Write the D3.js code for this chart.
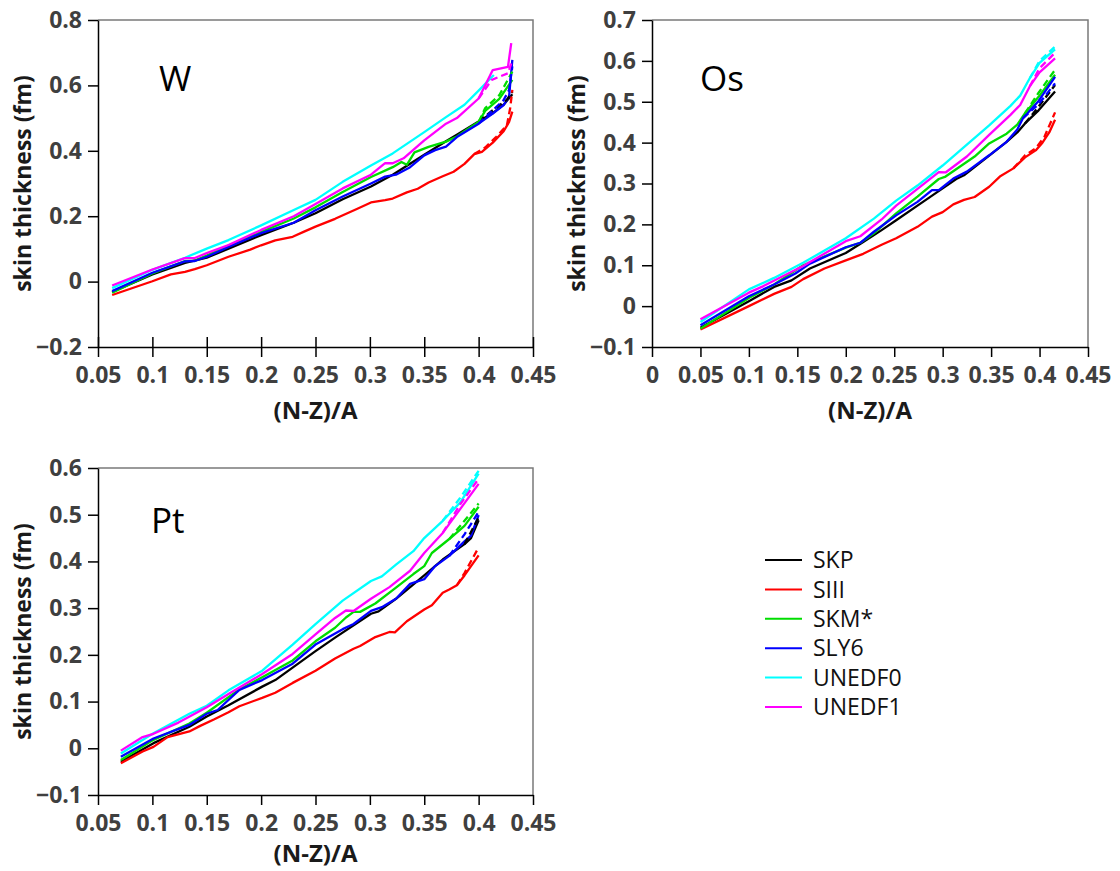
<!DOCTYPE html>
<html>
<head>
<meta charset="utf-8">
<script src="https://cdn.jsdelivr.net/npm/d3@7"></script>
<style>
  body { margin: 0; background: #ffffff; }
  svg { display: block; font-family: "Open Sans", "DejaVu Sans", sans-serif; }
</style>
</head>
<body>
<svg id="chart" width="1120" height="871"></svg>
<script>
// Skyrme / UNEDF functionals shown in every panel
const modelNames = ["SKP", "SIII", "SKM*", "SLY6", "UNEDF0", "UNEDF1"];
const modelColors = ["#000000", "#ff0000", "#00dd00", "#0000ff", "#00ffff", "#ff00ff"];

// Axis tick values
const W_xTicks = [0.05, 0.1, 0.15, 0.2, 0.25, 0.3, 0.35, 0.4, 0.45];
const W_yTicks = [-0.2, 0, 0.2, 0.4, 0.6, 0.8];
const Os_xTicks = [0, 0.05, 0.1, 0.15, 0.2, 0.25, 0.3, 0.35, 0.4, 0.45];
const Os_yTicks = [-0.1, 0, 0.1, 0.2, 0.3, 0.4, 0.5, 0.6, 0.7];
const Pt_xTicks = [0.05, 0.1, 0.15, 0.2, 0.25, 0.3, 0.35, 0.4, 0.45];
const Pt_yTicks = [-0.1, 0, 0.1, 0.2, 0.3, 0.4, 0.5, 0.6];

// ---- W isotopes: [(N-Z)/A, skin thickness (fm)] ----
const W_SKP = [[0.063,-0.032],[0.1,0.022],[0.13,0.057],[0.15,0.073],[0.17,0.101],[0.2,0.142],[0.23,0.18],[0.25,0.209],[0.275,0.252],[0.301,0.291],[0.321,0.327],[0.35,0.388],[0.37,0.429],[0.38,0.449],[0.4,0.49],[0.413,0.515],[0.423,0.541],[0.431,0.573]];
const W_SKP_dash = [[0.4,0.49],[0.413,0.524],[0.426,0.556],[0.431,0.581]];
const W_SIII = [[0.063,-0.041],[0.1,0.001],[0.117,0.022],[0.13,0.03],[0.139,0.038],[0.15,0.05],[0.17,0.076],[0.19,0.098],[0.2,0.111],[0.213,0.126],[0.229,0.137],[0.239,0.152],[0.25,0.168],[0.268,0.192],[0.288,0.222],[0.301,0.242],[0.314,0.249],[0.321,0.254],[0.334,0.273],[0.344,0.284],[0.354,0.303],[0.367,0.322],[0.377,0.336],[0.387,0.36],[0.396,0.39],[0.403,0.397],[0.413,0.425],[0.423,0.46],[0.428,0.488],[0.431,0.52]];
const W_SIII_dash = [[0.396,0.39],[0.406,0.41],[0.416,0.442],[0.426,0.478],[0.429,0.53],[0.431,0.586]];
const W_SKM = [[0.063,-0.034],[0.1,0.025],[0.13,0.063],[0.139,0.064],[0.15,0.08],[0.17,0.11],[0.2,0.152],[0.23,0.193],[0.25,0.227],[0.275,0.274],[0.301,0.32],[0.321,0.35],[0.329,0.366],[0.334,0.357],[0.341,0.395],[0.354,0.412],[0.37,0.428],[0.38,0.444],[0.39,0.467],[0.4,0.488],[0.406,0.522],[0.419,0.559],[0.431,0.617]];
const W_SKM_dash = [[0.4,0.488],[0.406,0.53],[0.419,0.57],[0.431,0.642]];
const W_SLY6 = [[0.063,-0.029],[0.1,0.027],[0.13,0.062],[0.139,0.063],[0.15,0.076],[0.17,0.106],[0.2,0.148],[0.23,0.18],[0.25,0.218],[0.275,0.26],[0.301,0.3],[0.314,0.321],[0.324,0.327],[0.337,0.35],[0.35,0.386],[0.36,0.402],[0.37,0.413],[0.38,0.442],[0.4,0.483],[0.413,0.514],[0.423,0.54],[0.428,0.566],[0.431,0.678]];
const W_SLY6_dash = [[0.4,0.483],[0.413,0.524],[0.423,0.555],[0.428,0.586],[0.431,0.658]];
const W_UNEDF0 = [[0.063,-0.02],[0.1,0.036],[0.13,0.073],[0.15,0.101],[0.17,0.127],[0.2,0.172],[0.23,0.219],[0.25,0.25],[0.275,0.305],[0.301,0.355],[0.321,0.392],[0.35,0.457],[0.37,0.503],[0.387,0.541],[0.4,0.584],[0.414,0.632]];
const W_UNEDF0_dash = [];
const W_UNEDF1 = [[0.063,-0.012],[0.1,0.037],[0.13,0.072],[0.139,0.072],[0.15,0.087],[0.17,0.112],[0.2,0.158],[0.23,0.2],[0.25,0.237],[0.275,0.285],[0.301,0.327],[0.314,0.362],[0.321,0.362],[0.331,0.377],[0.341,0.406],[0.35,0.432],[0.37,0.483],[0.38,0.5],[0.4,0.56],[0.413,0.647],[0.427,0.657],[0.43,0.729]];
const W_UNEDF1_dash = [[0.4,0.56],[0.412,0.617],[0.427,0.637],[0.43,0.667]];

// ---- Os isotopes ----
const Os_SKP = [[0.05,-0.053],[0.1,0.012],[0.126,0.047],[0.144,0.063],[0.163,0.092],[0.2,0.13],[0.218,0.157],[0.237,0.186],[0.252,0.21],[0.274,0.246],[0.3,0.288],[0.314,0.311],[0.322,0.32],[0.348,0.368],[0.366,0.402],[0.377,0.425],[0.385,0.447],[0.399,0.479],[0.416,0.525]];
const Os_SKP_dash = [[0.385,0.447],[0.399,0.488],[0.416,0.541]];
const Os_SIII = [[0.05,-0.057],[0.1,0.0],[0.126,0.03],[0.144,0.047],[0.156,0.066],[0.178,0.092],[0.2,0.112],[0.218,0.128],[0.237,0.15],[0.252,0.166],[0.274,0.194],[0.289,0.219],[0.3,0.23],[0.311,0.249],[0.322,0.26],[0.333,0.267],[0.348,0.292],[0.359,0.317],[0.373,0.337],[0.385,0.364],[0.396,0.381],[0.403,0.4],[0.41,0.425],[0.416,0.456]];
const Os_SIII_dash = [[0.373,0.337],[0.385,0.369],[0.396,0.386],[0.405,0.414],[0.416,0.474]];
const Os_SKM = [[0.05,-0.055],[0.1,0.02],[0.126,0.053],[0.156,0.1],[0.2,0.143],[0.215,0.155],[0.229,0.178],[0.252,0.227],[0.274,0.268],[0.296,0.311],[0.303,0.317],[0.333,0.366],[0.348,0.398],[0.366,0.422],[0.377,0.444],[0.385,0.472],[0.399,0.512],[0.416,0.566]];
const Os_SKM_dash = [[0.385,0.472],[0.399,0.522],[0.416,0.578]];
const Os_SLY6 = [[0.05,-0.047],[0.1,0.024],[0.126,0.053],[0.148,0.08],[0.163,0.104],[0.2,0.144],[0.215,0.155],[0.229,0.182],[0.252,0.222],[0.274,0.255],[0.289,0.284],[0.296,0.284],[0.311,0.312],[0.325,0.329],[0.348,0.369],[0.366,0.402],[0.377,0.432],[0.383,0.46],[0.399,0.502],[0.416,0.561]];
const Os_SLY6_dash = [[0.383,0.46],[0.399,0.494],[0.416,0.545]];
const Os_UNEDF0 = [[0.05,-0.039],[0.1,0.041],[0.126,0.069],[0.156,0.106],[0.2,0.166],[0.229,0.214],[0.252,0.258],[0.274,0.295],[0.3,0.344],[0.322,0.389],[0.348,0.442],[0.37,0.49],[0.38,0.515],[0.39,0.558],[0.4,0.595],[0.416,0.628]];
const Os_UNEDF0_dash = [[0.39,0.558],[0.4,0.6],[0.416,0.635]];
const Os_UNEDF1 = [[0.05,-0.032],[0.1,0.033],[0.115,0.049],[0.156,0.098],[0.2,0.159],[0.215,0.171],[0.237,0.212],[0.252,0.246],[0.274,0.287],[0.296,0.328],[0.303,0.327],[0.325,0.366],[0.348,0.419],[0.37,0.468],[0.38,0.492],[0.39,0.538],[0.4,0.572],[0.416,0.606]];
const Os_UNEDF1_dash = [[0.39,0.538],[0.4,0.582],[0.416,0.62]];

// ---- Pt isotopes ----
const Pt_SKP = [[0.071,-0.029],[0.101,0.011],[0.134,0.046],[0.15,0.068],[0.17,0.092],[0.201,0.132],[0.213,0.146],[0.25,0.208],[0.268,0.237],[0.301,0.288],[0.308,0.293],[0.324,0.32],[0.35,0.37],[0.367,0.404],[0.387,0.437],[0.393,0.45],[0.4,0.488]];
const Pt_SKP_dash = [[0.387,0.437],[0.4,0.494]];
const Pt_SIII = [[0.071,-0.032],[0.091,-0.007],[0.101,0.003],[0.114,0.024],[0.134,0.036],[0.144,0.048],[0.157,0.062],[0.17,0.077],[0.18,0.09],[0.201,0.108],[0.213,0.119],[0.229,0.14],[0.25,0.166],[0.268,0.192],[0.285,0.213],[0.291,0.219],[0.305,0.238],[0.318,0.249],[0.323,0.248],[0.334,0.272],[0.35,0.297],[0.357,0.306],[0.367,0.333],[0.373,0.34],[0.38,0.349],[0.387,0.37],[0.4,0.413]];
const Pt_SIII_dash = [[0.38,0.349],[0.387,0.375],[0.4,0.43]];
const Pt_SKM = [[0.071,-0.025],[0.101,0.018],[0.134,0.053],[0.15,0.076],[0.18,0.126],[0.201,0.152],[0.229,0.188],[0.25,0.229],[0.268,0.258],[0.278,0.28],[0.285,0.292],[0.291,0.292],[0.305,0.31],[0.324,0.344],[0.34,0.373],[0.35,0.39],[0.357,0.418],[0.373,0.448],[0.387,0.476],[0.4,0.517]];
const Pt_SKM_dash = [[0.373,0.448],[0.387,0.487],[0.4,0.524]];
const Pt_SLY6 = [[0.071,-0.018],[0.101,0.021],[0.134,0.05],[0.15,0.074],[0.16,0.082],[0.18,0.125],[0.201,0.146],[0.229,0.181],[0.25,0.222],[0.275,0.255],[0.285,0.266],[0.301,0.294],[0.311,0.302],[0.324,0.32],[0.337,0.352],[0.35,0.362],[0.36,0.39],[0.373,0.412],[0.387,0.443],[0.393,0.455],[0.4,0.499]];
const Pt_SLY6_dash = [[0.373,0.412],[0.387,0.458],[0.4,0.506]];
const Pt_UNEDF0 = [[0.071,-0.011],[0.101,0.032],[0.134,0.074],[0.15,0.091],[0.17,0.124],[0.201,0.166],[0.229,0.222],[0.25,0.266],[0.275,0.316],[0.301,0.358],[0.311,0.368],[0.324,0.393],[0.34,0.422],[0.35,0.45],[0.367,0.487],[0.383,0.526],[0.4,0.588]];
const Pt_UNEDF0_dash = [[0.367,0.487],[0.383,0.536],[0.4,0.594]];
const Pt_UNEDF1 = [[0.071,-0.005],[0.091,0.024],[0.101,0.031],[0.124,0.055],[0.15,0.088],[0.17,0.116],[0.201,0.159],[0.229,0.202],[0.25,0.244],[0.268,0.279],[0.278,0.295],[0.285,0.294],[0.301,0.32],[0.318,0.345],[0.337,0.38],[0.35,0.418],[0.367,0.461],[0.383,0.512],[0.4,0.566]];
const Pt_UNEDF1_dash = [[0.367,0.461],[0.383,0.522],[0.4,0.577]];

// Panel layout
const panels = [
  { label: "W", box: { left: 98, top: 20, right: 533, bottom: 347 },
    xDomain: [0.05, 0.45], yDomain: [-0.2, 0.8], xTicks: W_xTicks, yTicks: W_yTicks,
    crossTicks: true, labelAt: [159, 91], yTitleX: 23, xTitleY: 419,
    solid: [W_SKP, W_SIII, W_SKM, W_SLY6, W_UNEDF0, W_UNEDF1],
    dashed: [W_SKP_dash, W_SIII_dash, W_SKM_dash, W_SLY6_dash, W_UNEDF0_dash, W_UNEDF1_dash] },
  { label: "Os", box: { left: 652, top: 20, right: 1088, bottom: 347 },
    xDomain: [0, 0.45], yDomain: [-0.1, 0.7], xTicks: Os_xTicks, yTicks: Os_yTicks,
    crossTicks: false, labelAt: [700, 91], yTitleX: 577, xTitleY: 419,
    solid: [Os_SKP, Os_SIII, Os_SKM, Os_SLY6, Os_UNEDF0, Os_UNEDF1],
    dashed: [Os_SKP_dash, Os_SIII_dash, Os_SKM_dash, Os_SLY6_dash, Os_UNEDF0_dash, Os_UNEDF1_dash] },
  { label: "Pt", box: { left: 98, top: 468, right: 533, bottom: 795 },
    xDomain: [0.05, 0.45], yDomain: [-0.1, 0.6], xTicks: Pt_xTicks, yTicks: Pt_yTicks,
    crossTicks: false, labelAt: [151, 533], yTitleX: 23, xTitleY: 862,
    solid: [Pt_SKP, Pt_SIII, Pt_SKM, Pt_SLY6, Pt_UNEDF0, Pt_UNEDF1],
    dashed: [Pt_SKP_dash, Pt_SIII_dash, Pt_SKM_dash, Pt_SLY6_dash, Pt_UNEDF0_dash, Pt_UNEDF1_dash] }
];

const svg = d3.select("#chart");
const tickFmt = d => (d < 0 ? "\u2212" : "") + String(Math.abs(d));

panels.forEach(p => {
  const b = p.box;
  const x = d3.scaleLinear().domain(p.xDomain).range([b.left, b.right]);
  const y = d3.scaleLinear().domain(p.yDomain).range([b.bottom, b.top]);
  const g = svg.append("g");

  // frame (top and right edges)
  g.append("path")
    .attr("d", `M${b.left},${b.top}H${b.right}V${b.bottom}`)
    .attr("fill", "none").attr("stroke", "#7a7a7a").attr("stroke-width", 1.5);

  // axes
  const gx = g.append("g").attr("transform", `translate(0,${b.bottom})`)
    .call(d3.axisBottom(x).tickValues(p.xTicks).tickFormat(tickFmt)
      .tickSize(10).tickSizeOuter(0).tickPadding(10));
  if (p.crossTicks) gx.selectAll(".tick line").attr("y1", -10);
  const gy = g.append("g").attr("transform", `translate(${b.left},0)`)
    .call(d3.axisLeft(y).tickValues(p.yTicks).tickFormat(tickFmt)
      .tickSize(10).tickSizeOuter(0).tickPadding(6));

  [gx, gy].forEach(a => {
    a.select(".domain").attr("stroke", "#000").attr("stroke-width", 1.5);
    a.selectAll(".tick line").attr("stroke", "#000").attr("stroke-width", 1.5);
    a.selectAll(".tick text")
      .attr("font-family", "'Open Sans', sans-serif")
      .attr("font-size", 23).attr("font-weight", "bold").attr("fill", "#3f3f3f");
  });

  // curves
  const line = d3.line().x(d => x(d[0])).y(d => y(d[1]));
  p.solid.forEach((s, i) => {
    g.append("path").datum(s).attr("d", line)
      .attr("fill", "none").attr("stroke", modelColors[i])
      .attr("stroke-width", 2.3).attr("stroke-linejoin", "round");
  });
  p.dashed.forEach((s, i) => {
    if (!s.length) return;
    g.append("path").datum(s).attr("d", line)
      .attr("fill", "none").attr("stroke", modelColors[i])
      .attr("stroke-width", 2.3).attr("stroke-dasharray", "7,4");
  });

  // panel label
  g.append("text").attr("x", p.labelAt[0]).attr("y", p.labelAt[1])
    .attr("font-size", 35).attr("fill", "#000").text(p.label);

  // axis titles
  g.append("text")
    .attr("transform", `translate(${p.yTitleX},${(b.top + b.bottom) / 2}) rotate(-90)`)
    .attr("text-anchor", "middle").attr("dy", "0.35em")
    .attr("font-size", 23).attr("font-weight", "bold").attr("fill", "#1a1a1a")
    .text("skin thickness (fm)");
  g.append("text")
    .attr("x", (b.left + b.right) / 2).attr("y", p.xTitleY)
    .attr("text-anchor", "middle")
    .attr("font-size", 24).attr("font-weight", "bold").attr("fill", "#1a1a1a")
    .text("(N-Z)/A");
});

// legend
const legend = svg.append("g").attr("transform", "translate(765,560)");
modelNames.forEach((name, i) => {
  const row = legend.append("g").attr("transform", `translate(0,${i * 29.4})`);
  row.append("line").attr("x1", 0).attr("x2", 37).attr("y1", 0).attr("y2", 0)
    .attr("stroke", modelColors[i]).attr("stroke-width", 2);
  row.append("text").attr("x", 48).attr("dy", "0.36em")
    .attr("font-size", 23).attr("fill", "#111").text(name);
});
</script>
</body>
</html>
